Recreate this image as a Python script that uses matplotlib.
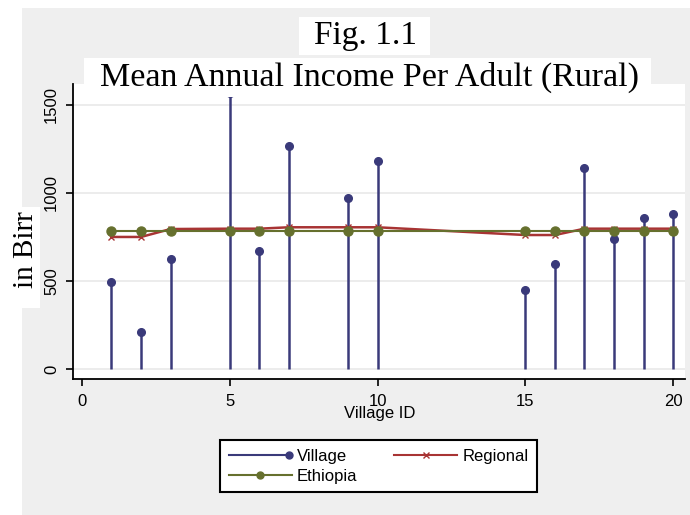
import matplotlib
matplotlib.use("Agg")
import matplotlib.pyplot as plt
from matplotlib.lines import Line2D
from matplotlib.patches import Rectangle
from matplotlib.legend_handler import HandlerLine2D

# village ids with survey data
village_id = [1, 2, 3, 5, 6, 7, 9, 10, 15, 16, 17, 18, 19, 20]
# mean annual income per adult, in Birr
village = [494, 210, 625, 1570, 670, 1267, 972, 1182, 449, 597, 1142, 739, 858, 880]
regional = [750, 750, 795, 797, 797, 805, 805, 805, 761, 761, 797, 797, 797, 797]
ethiopia = [785] * len(village_id)

x_ticks = [0, 5, 10, 15, 20]
y_ticks = [0, 500, 1000, 1500]

navy = "#3a3a7a"
maroon = "#a83434"
olive = "#66702e"
serif = ["Liberation Serif", "DejaVu Serif"]
sans = ["Liberation Sans", "DejaVu Sans"]

W, H = 690, 515


class EndMarkerHandler(HandlerLine2D):
    # legend key with the marker sitting at the right end of the line
    def create_artists(self, legend, orig_handle, xdescent, ydescent,
                       width, height, fontsize, trans):
        y = height / 2 - ydescent
        line = Line2D([-xdescent, width - xdescent], [y, y],
                      color=orig_handle.get_color(), lw=orig_handle.get_linewidth())
        mark = Line2D([width - xdescent - 2], [y], ls="none",
                      marker=orig_handle.get_marker(),
                      markersize=orig_handle.get_markersize(),
                      color=orig_handle.get_color())
        line.set_transform(trans)
        mark.set_transform(trans)
        return [line, mark]


def fx(px):
    return px / W


def fy(py):
    return 1 - py / H


def main():
    fig = plt.figure(figsize=(W / 100, H / 100), dpi=100)
    fig.patch.set_facecolor("white")

    # grey backdrop and white label box
    fig.patches.append(Rectangle((fx(22), 0), 1 - fx(22), fy(8), transform=fig.transFigure,
                                 facecolor="#efefef", edgecolor="none", zorder=-2))
    fig.patches.append(Rectangle((fx(22), fy(308)), fx(40) - fx(22), fy(207) - fy(308),
                                 transform=fig.transFigure, facecolor="white",
                                 edgecolor="none", zorder=-1))

    ax = fig.add_axes([fx(73), fy(379), fx(685) - fx(73), fy(84) - fy(379)])
    ax.set_facecolor("white")

    for y in y_ticks:
        ax.axhline(y, color="#e9e9e9", lw=1.2, zorder=0)

    ax.vlines(village_id, 0, village, color=navy, lw=1.8, zorder=2)
    ax.plot(village_id, village, ls="none", marker="o", markersize=5.5, color=navy, zorder=2)
    ax.plot(village_id, regional, color=maroon, lw=1.8, marker="x", markersize=5,
            markeredgewidth=1, zorder=3)
    ax.plot(village_id, ethiopia, color=olive, lw=1.5, marker="o", markersize=6.5, zorder=4)

    ax.set_xlim(-0.3, 20.4)
    ax.set_ylim(-57, 1619)
    ax.set_xticks(x_ticks)
    ax.set_yticks(y_ticks)
    ax.spines["top"].set_visible(False)
    ax.spines["right"].set_visible(False)
    ax.spines["left"].set_linewidth(1.3)
    ax.spines["bottom"].set_linewidth(1.3)
    ax.tick_params(axis="both", length=5, width=1.2, labelsize=12)
    ax.tick_params(axis="x", pad=6)
    ax.tick_params(axis="y", pad=5)
    for lab in ax.get_yticklabels():
        lab.set_rotation(90)
        lab.set_va("center")
        lab.set_family(sans)
    for lab in ax.get_xticklabels():
        lab.set_family(sans)

    ax.set_xlabel("Village ID", fontsize=12, family=sans)
    ax.xaxis.set_label_coords(0.5016, -0.092)

    fig.text(fx(26), fy(250), "in Birr", rotation=90, ha="center", va="center",
             fontsize=21, family=serif, zorder=2)

    # titles on white boxes, drawn over the plot
    fig.patches.append(Rectangle((fx(299), fy(55)), fx(430) - fx(299), fy(17) - fy(55),
                                 transform=fig.transFigure, facecolor="white",
                                 edgecolor="none", zorder=5))
    fig.patches.append(Rectangle((fx(84), fy(97)), fx(651) - fx(84), fy(58) - fy(97),
                                 transform=fig.transFigure, facecolor="white",
                                 edgecolor="none", zorder=5))
    fig.text(fx(365), fy(36), "Fig. 1.1", ha="center", va="center",
             fontsize=24, family=serif, zorder=6)
    fig.text(fx(369), fy(77), "Mean Annual Income Per Adult (Rural)", ha="center",
             va="center", fontsize=24.5, family=serif, zorder=6)

    h_village = Line2D([], [], color=navy, lw=1.5, marker="o", markersize=5)
    h_regional = Line2D([], [], color=maroon, lw=1.5, marker="x", markersize=5)
    h_ethiopia = Line2D([], [], color=olive, lw=1.5, marker="o", markersize=5)
    leg = fig.legend([h_village, h_ethiopia, h_regional],
                     ["Village", "Ethiopia", "Regional"],
                     handler_map={h_village: EndMarkerHandler()},
                     ncol=2, loc="center", bbox_to_anchor=(fx(378.5), fy(466)),
                     prop={"family": sans, "size": 12}, frameon=True, fancybox=False,
                     handlelength=3.8, handletextpad=0.3, columnspacing=2.2,
                     labelspacing=0.3, borderpad=0.5, numpoints=1)
    leg.get_frame().set_edgecolor("black")
    leg.get_frame().set_linewidth(1.5)
    leg.get_frame().set_facecolor("white")
    leg.get_frame().set_alpha(1)

    fig.savefig("out.png", dpi=100, facecolor=fig.get_facecolor())


if __name__ == "__main__":
    main()
